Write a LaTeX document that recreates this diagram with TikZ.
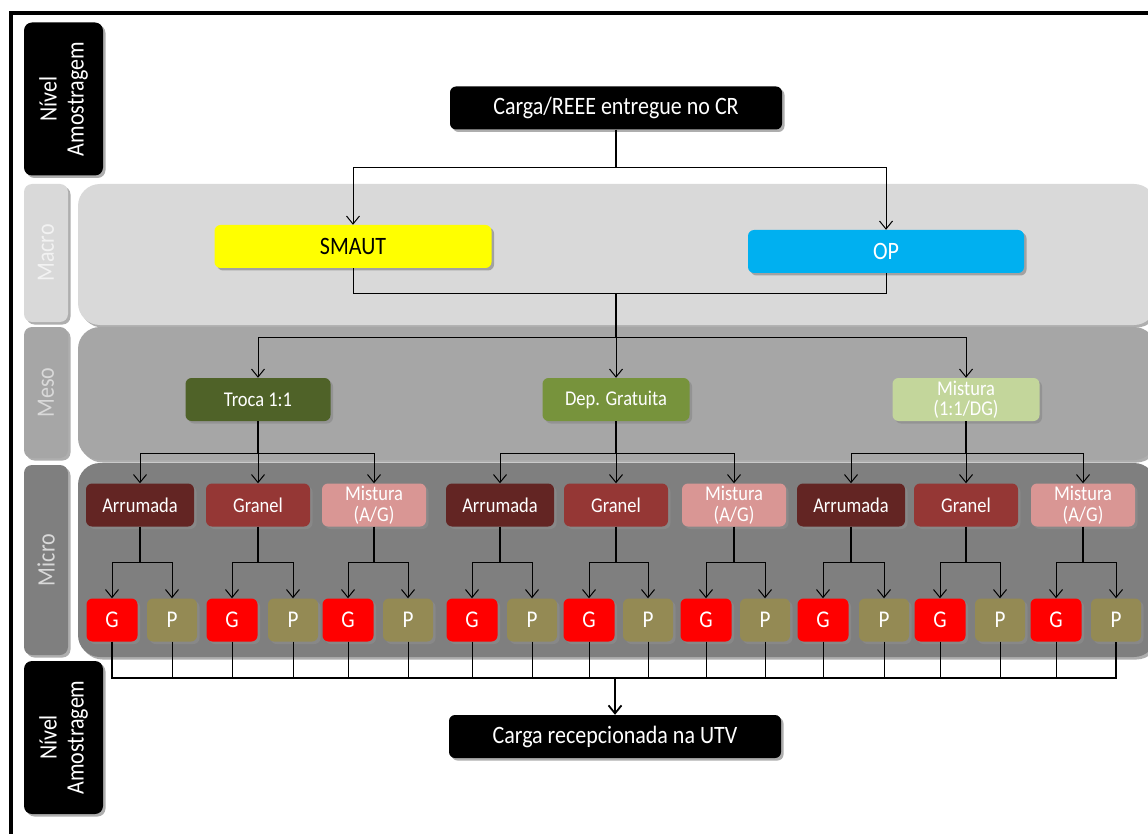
\documentclass[tikz,border=0pt]{standalone}
\usepackage{fontspec}
\setmainfont{Carlito}[FakeStretch=0.88]
\usepackage{tikz}
\usetikzlibrary{arrows.meta,shadows}
\tikzset{>={Straight Barb[length=8pt,width=13pt]}}
\definecolor{macrogray}{HTML}{D9D9D9}
\definecolor{mesogray}{HTML}{A6A6A6}
\definecolor{microgray}{HTML}{7F7F7F}
\definecolor{smautyellow}{HTML}{FFFF00}
\definecolor{opblue}{HTML}{00B0F0}
\definecolor{trocagreen}{HTML}{4F6228}
\definecolor{depgreen}{HTML}{77933C}
\definecolor{mistgreen}{HTML}{C3D69B}
\definecolor{arrred}{HTML}{632523}
\definecolor{granred}{HTML}{953735}
\definecolor{mixpink}{HTML}{D99694}
\definecolor{gred}{HTML}{FF0000}
\definecolor{polive}{HTML}{948A54}
\tikzset{
    shadowed/.style={drop shadow={shadow xshift=2.5pt,shadow yshift=-2.5pt,fill=black!45,opacity=.7}},
    band/.style={rounded corners=22pt,shadowed},
    sidelabel/.style={rounded corners=8pt,shadowed,inner sep=0pt,rotate=90,align=center,
        minimum height=44pt,font=\fontsize{25}{27}\selectfont},
    levelbox/.style={sidelabel,fill=black,text=white,minimum height=79pt,minimum width=153pt},
    bigbox/.style={rounded corners=6pt,shadowed,inner sep=0pt,minimum height=43pt,
        font=\fontsize{25}{27}\selectfont,text=white},
    midbox/.style={rounded corners=6pt,shadowed,inner sep=0pt,minimum height=43pt,align=center,
        font=\fontsize{21}{20.5}\selectfont,text=white},
    gpbox/.style={rounded corners=6pt,shadowed,inner sep=0pt,minimum height=43pt,
        font=\fontsize{24}{26}\selectfont,text=white},
    stem/.style={line width=1.8pt},
    br/.style={line width=1pt}
}
\begin{document}
\begin{tikzpicture}[x=1pt,y=-1pt]
    \useasboundingbox (0,0) rectangle (1148,834);
    \fill[white] (0,0) rectangle (1148,834);
    \draw[line width=4pt] (1152,13.5) -- (10.5,13.5) -- (10.5,840);
    % bands
    \path[band,fill=macrogray] (78,184) rectangle (1156,325);
    \path[band,fill=mesogray] (78,327) rectangle (1156,460);
    \path[band,fill=microgray] (78,463) rectangle (1156,657);
    % side labels
    \node[levelbox] at (63.5,99) (lvltop) {Nível\\Amostragem};
    \node[sidelabel,fill=macrogray,text=white!95!black,minimum width=138pt] at (46,253) (macrolbl) {Macro};
    \node[sidelabel,fill=mesogray,text=macrogray,minimum width=131pt] at (46,392.5) (mesolbl) {Meso};
    \node[sidelabel,fill=microgray,text=macrogray,minimum width=190pt] at (46,560) (microlbl) {Micro};
    \node[levelbox] at (63.5,737.5) (lvlbot) {Nível\\Amostragem};
    % top and macro
    \node[bigbox,fill=black,minimum width=332pt] at (616,108) (carga) {Carga/REEE entregue no CR};
    \node[bigbox,fill=smautyellow,text=black,minimum width=277pt] at (353,246.5) (smaut) {SMAUT};
    \node[bigbox,fill=opblue,minimum width=276pt] at (886,251.5) (op) {OP};
    % meso
    \node[midbox,fill=trocagreen,minimum width=145pt] at (258,399.5) (troca) {Troca 1:1};
    \node[midbox,fill=depgreen,minimum width=147pt] at (616,399.5) (dep) {Dep. Gratuita};
    \node[midbox,fill=mistgreen,minimum width=147pt] at (966,399.5) (mistdg) {Mistura\\(1:1/DG)};
    % micro
    \node[midbox,fill=arrred,minimum width=108pt] at (140,505) (arr1) {Arrumada};
    \node[midbox,fill=granred,minimum width=104pt] at (258,505) (gran1) {Granel};
    \node[midbox,fill=mixpink,minimum width=104pt] at (374,505) (mix1) {Mistura\\(A/G)};
    \node[midbox,fill=arrred,minimum width=108pt] at (500,505) (arr2) {Arrumada};
    \node[midbox,fill=granred,minimum width=104pt] at (616,505) (gran2) {Granel};
    \node[midbox,fill=mixpink,minimum width=104pt] at (734,505) (mix2) {Mistura\\(A/G)};
    \node[midbox,fill=arrred,minimum width=108pt] at (851,505) (arr3) {Arrumada};
    \node[midbox,fill=granred,minimum width=104pt] at (966,505) (gran3) {Granel};
    \node[midbox,fill=mixpink,minimum width=104pt] at (1083,505) (mix3) {Mistura\\(A/G)};
    % G / P
    \node[gpbox,fill=gred,minimum width=51pt] at (112,620) (g1) {G};
    \node[gpbox,fill=polive,minimum width=50pt] at (172,620) (p1) {P};
    \node[gpbox,fill=gred,minimum width=51pt] at (232,620) (g2) {G};
    \node[gpbox,fill=polive,minimum width=50pt] at (293,620) (p2) {P};
    \node[gpbox,fill=gred,minimum width=51pt] at (348,620) (g3) {G};
    \node[gpbox,fill=polive,minimum width=50pt] at (408,620) (p3) {P};
    \node[gpbox,fill=gred,minimum width=51pt] at (472,620) (g4) {G};
    \node[gpbox,fill=polive,minimum width=50pt] at (532,620) (p4) {P};
    \node[gpbox,fill=gred,minimum width=51pt] at (589,620) (g5) {G};
    \node[gpbox,fill=polive,minimum width=50pt] at (648,620) (p5) {P};
    \node[gpbox,fill=gred,minimum width=51pt] at (706,620) (g6) {G};
    \node[gpbox,fill=polive,minimum width=50pt] at (765,620) (p6) {P};
    \node[gpbox,fill=gred,minimum width=51pt] at (823,620) (g7) {G};
    \node[gpbox,fill=polive,minimum width=50pt] at (884,620) (p7) {P};
    \node[gpbox,fill=gred,minimum width=51pt] at (940,620) (g8) {G};
    \node[gpbox,fill=polive,minimum width=50pt] at (1000,620) (p8) {P};
    \node[gpbox,fill=gred,minimum width=51pt] at (1056,620) (g9) {G};
    \node[gpbox,fill=polive,minimum width=50pt] at (1116,620) (p9) {P};
    \node[bigbox,fill=black,minimum width=332pt] at (615,736.5) (utv) {Carga recepcionada na UTV};
    % connectors
    \draw[stem] (carga.south) -- ++(0,38) coordinate (c1);
    \draw[br,->] (c1) -| (smaut.north);
    \draw[br,->] (c1) -| (op.north);
    \draw[br] (smaut.south) -- ++(0,25) coordinate (m1) -| (op.south);
    \draw[stem] (m1 -| carga.south) -- ++(0,44) coordinate (m2);
    \draw[br,->] (m2) -| (troca.north);
    \draw[br,->] (m2) -- (dep.north);
    \draw[br,->] (m2) -| (mistdg.north);
    \draw[stem] (troca.south) -- ++(0,32) coordinate (t1);
    \draw[br,->] (t1) -| (arr1.north); \draw[br,->] (t1) -- (gran1.north); \draw[br,->] (t1) -| (mix1.north);
    \draw[stem] (dep.south) -- ++(0,32) coordinate (d1);
    \draw[br,->] (d1) -| (arr2.north); \draw[br,->] (d1) -- (gran2.north); \draw[br,->] (d1) -| (mix2.north);
    \draw[stem] (mistdg.south) -- ++(0,32) coordinate (x1);
    \draw[br,->] (x1) -| (arr3.north); \draw[br,->] (x1) -- (gran3.north); \draw[br,->] (x1) -| (mix3.north);
    \draw[stem] (arr1.south) -- ++(0,36) coordinate (a1);
    \draw[br,->] (a1) -| (g1.north); \draw[br,->] (a1) -| (p1.north);
    \draw[stem] (gran1.south) -- ++(0,36) coordinate (a2);
    \draw[br,->] (a2) -| (g2.north); \draw[br,->] (a2) -| (p2.north);
    \draw[stem] (mix1.south) -- ++(0,36) coordinate (a3);
    \draw[br,->] (a3) -| (g3.north); \draw[br,->] (a3) -| (p3.north);
    \draw[stem] (arr2.south) -- ++(0,36) coordinate (a4);
    \draw[br,->] (a4) -| (g4.north); \draw[br,->] (a4) -| (p4.north);
    \draw[stem] (gran2.south) -- ++(0,36) coordinate (a5);
    \draw[br,->] (a5) -| (g5.north); \draw[br,->] (a5) -| (p5.north);
    \draw[stem] (mix2.south) -- ++(0,36) coordinate (a6);
    \draw[br,->] (a6) -| (g6.north); \draw[br,->] (a6) -| (p6.north);
    \draw[stem] (arr3.south) -- ++(0,36) coordinate (a7);
    \draw[br,->] (a7) -| (g7.north); \draw[br,->] (a7) -| (p7.north);
    \draw[stem] (gran3.south) -- ++(0,36) coordinate (a8);
    \draw[br,->] (a8) -| (g8.north); \draw[br,->] (a8) -| (p8.north);
    \draw[stem] (mix3.south) -- ++(0,36) coordinate (a9);
    \draw[br,->] (a9) -| (g9.north); \draw[br,->] (a9) -| (p9.north);
    % bus to UTV
    \coordinate (bus) at (615,678);
    \draw[stem] (g1.south) |- (bus) -| (p9.south);
    \draw[br] (p1.south) -- (p1.south |- bus) (g2.south) -- (g2.south |- bus) (p2.south) -- (p2.south |- bus)
        (g3.south) -- (g3.south |- bus) (p3.south) -- (p3.south |- bus) (g4.south) -- (g4.south |- bus)
        (p4.south) -- (p4.south |- bus) (g5.south) -- (g5.south |- bus) (p5.south) -- (p5.south |- bus)
        (g6.south) -- (g6.south |- bus) (p6.south) -- (p6.south |- bus) (g7.south) -- (g7.south |- bus)
        (p7.south) -- (p7.south |- bus) (g8.south) -- (g8.south |- bus) (p8.south) -- (p8.south |- bus)
        (g9.south) -- (g9.south |- bus);
    \draw[stem,->] (bus) -- (utv.north);
\end{tikzpicture}
\end{document}
